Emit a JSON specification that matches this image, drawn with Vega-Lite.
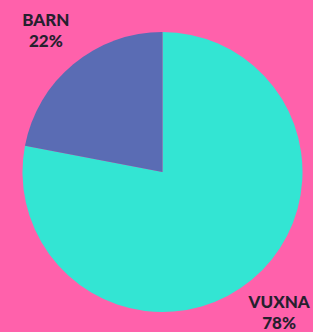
{
  "$schema": "https://vega.github.io/schema/vega-lite/v6.json",
  "width": 301,
  "height": 320,
  "autosize": {"type": "none"},
  "padding": {"left": 12, "top": 12, "right": 0, "bottom": 0},
  "background": "#FF61AB",
  "view": {"stroke": null},
  "data": {"values": [
    {"category": "VUXNA", "pct": 78, "idx": 1},
    {"category": "BARN", "pct": 22, "idx": 2}
  ]},
  "transform": [
    {"calculate": "datum.category + '\\n' + datum.pct + '%'", "as": "label"}
  ],
  "encoding": {
    "theta": {"field": "pct", "type": "quantitative", "stack": true},
    "order": {"field": "idx", "type": "quantitative"},
    "color": {"field": "category", "type": "nominal",
      "scale": {"domain": ["VUXNA", "BARN"], "range": ["#33E5D3", "#5A6CB4"]},
      "legend": null}
  },
  "layer": [
    {"mark": {"type": "arc", "outerRadius": 140}},
    {"mark": {"type": "text", "radius": 183, "dy": -10, "font": "Lato", "fontWeight": 900, "fontSize": 17, "lineHeight": 21, "lineBreak": "\n", "align": "center", "baseline": "middle", "color": "#26202E"},
     "encoding": {"text": {"field": "label"}, "color": {"value": "#26202E"}}}
  ]
}
